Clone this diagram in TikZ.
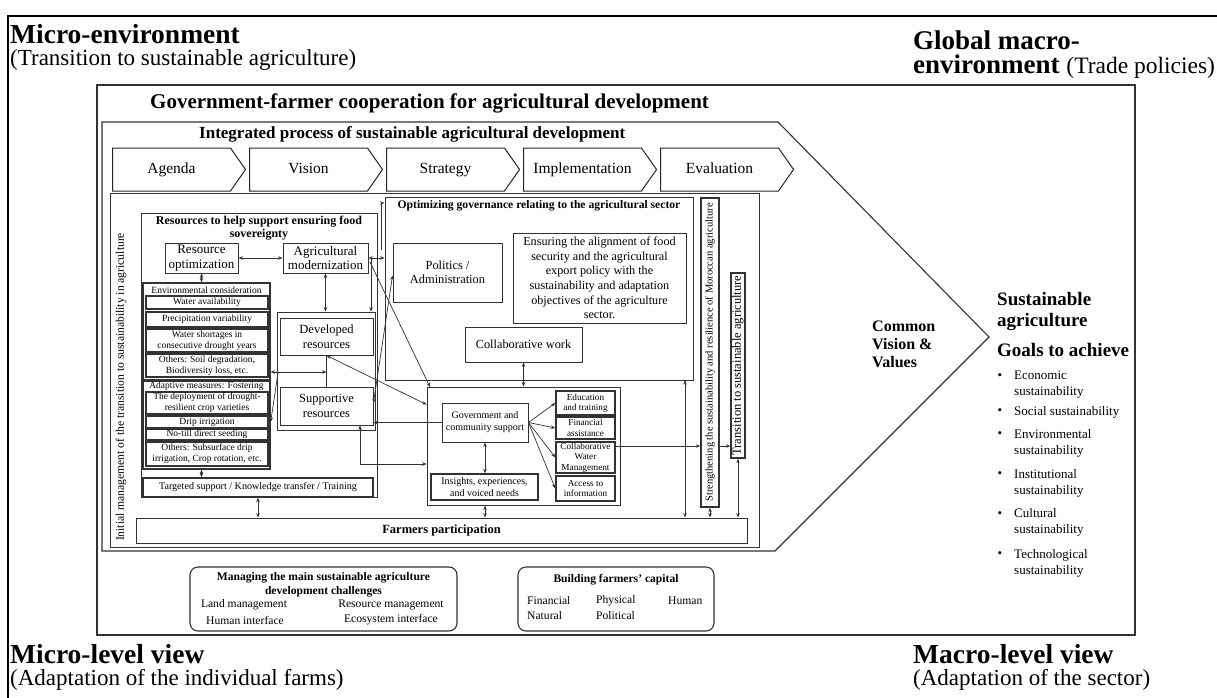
\documentclass[tikz,border=0pt]{standalone}
\usepackage{fontspec}
\setmainfont{Liberation Serif}
\usetikzlibrary{arrows.meta,shapes.symbols}
\newcommand\fz[2]{\fontsize{#1}{#2}\selectfont}
\tikzset{
  ln/.style={draw=black!80, line width=0.9pt},
  bx/.style={ln, inner sep=0pt, align=center},
  tb/.style={bx, line width=1.3pt},
  sb/.style={tb, minimum width=122pt, font=\fz{9.5}{10.8}},
  rs/.style={tb, minimum width=59pt, font=\fz{9.2}{10.4}},
  ah/.style={-{Stealth[length=4.5pt,width=3.5pt]}, draw=black!80, line width=0.7pt},
  dah/.style={{Stealth[length=4.5pt,width=3.5pt]}-{Stealth[length=4.5pt,width=3.5pt]}, draw=black!80, line width=0.7pt},
  chev/.style={draw=black!85, line width=1pt, shape=signal, signal to=east, signal pointer angle=110, minimum width=133pt, minimum height=43pt, inner sep=0pt, text height=11pt, text depth=3.5pt, font=\fz{15.5}{18}},
  lbl/.style={inner sep=0pt, align=left},
  rbox/.style={ln, line width=1.1pt, rounded corners=8pt, inner sep=0pt},
}
\begin{document}
\begin{tikzpicture}[x=1pt,y=-1pt]
\useasboundingbox (0,0) rectangle (1217,698);
\fill[white] (0,0) rectangle (1217,698);
\draw[line width=1.2pt] (8,698) -- (8,16) -- (1217,16);

% corner titles
\node[lbl, anchor=base west, font={\fz{23}{22}\lineskiplimit=-50pt}] (micro) at (10,66) {{\fz{27.5}{22}\bfseries Micro-environment}\\(Transition to sustainable agriculture)};
\node[lbl, anchor=base west, font={\fz{27}{24}\lineskiplimit=-50pt}] (glob) at (913,74) {{\bfseries Global macro-}\\{\bfseries environment}\ {\fz{23.5}{24}(Trade policies)}};
\node[lbl, anchor=base west, font={\fz{23}{22}\lineskiplimit=-50pt}] (mlv) at (10,685) {{\fz{27.5}{22}\bfseries Micro-level view}\\(Adaptation of the individual farms)};
\node[lbl, anchor=base west, font={\fz{23}{22}\lineskiplimit=-50pt}] (Mlv) at (913,685) {{\fz{27.5}{22}\bfseries Macro-level view}\\(Adaptation of the sector)};

% government box
\node[bx, line width=1.1pt, minimum width=1038pt, minimum height=550pt] (gov) at (616,360) {};
\node[lbl, anchor=base west, font=\fz{21}{24}\bfseries] (govt) at (150,109) {Government-farmer cooperation for agricultural development};

% pentagon
\draw[ln, line width=1.1pt] (102,122) -- (778,122) -- (989,337) -- (775,551) -- (102,551) -- cycle;
\node[lbl, anchor=base west, font=\fz{17}{20}\bfseries] (ipt) at (199,139) {Integrated process of sustainable agricultural development};

\node[chev] (c1) at (171.5,169.5) {Agenda};
\node[chev] (c2) at (308.5,169.5) {Vision};
\node[chev] (c3) at (445.5,169.5) {Strategy};
\node[chev] (c4) at (582.5,169.5) {Implementation};
\node[chev] (c5) at (719.5,169.5) {Evaluation};

% inner box
\node[bx, minimum width=649pt, minimum height=354pt] (inner) at (434.5,370) {};
\node[rotate=90, font=\fz{11.6}{13}, inner sep=0pt] (initv) at (121,387) {Initial management of the transition to sustainability in agriculture};

% resources box
\node[bx, minimum width=236pt, minimum height=284pt] (res) at (259,355) {};
\node[font=\fz{12}{13}\bfseries, align=center, inner sep=0pt] (rest) at (259,228.5) {Resources to help support ensuring food\\sovereignty};
\node[bx, minimum width=73pt, minimum height=30pt, font=\fz{13}{14.5}] (ro) at (201.5,258) {Resource\\optimization};
\node[bx, minimum width=85pt, minimum height=30pt, font=\fz{13}{14.5}] (am) at (325.5,258) {Agricultural\\modernization};

\node[tb, minimum width=127pt, minimum height=97pt] (env) at (206.5,331.5) {};
\node[font=\fz{9.5}{11}, inner sep=0pt] (envt) at (206.5,290) {Environmental consideration};
\node[sb, minimum height=13pt] (wa) at (207,302.5) {Water availability};
\node[sb, minimum height=15pt] (pv) at (207,319.5) {Precipitation variability};
\node[sb, minimum height=23pt] (ws) at (207,340.5) {Water shortages in\\consecutive drought years};
\node[sb, minimum height=23pt] (os) at (207,365.5) {Others: Soil degradation,\\Biodiversity loss, etc.};

\node[tb, minimum width=127pt, minimum height=88pt] (ada) at (206.5,425) {};
\node[font=\fz{9.5}{11}, inner sep=0pt] (adat) at (206.5,386) {Adaptive measures: Fostering};
\node[sb, minimum height=22pt] (dd) at (207,403) {The deployment of drought-\\resilient crop varieties};
\node[sb, minimum height=12pt] (di) at (207,422) {Drip irrigation};
\node[sb, minimum height=11pt] (nt) at (207,434.5) {No-till direct seeding};
\node[sb, minimum height=24pt] (ot) at (207,454) {Others: Subsurface drip\\irrigation, Crop rotation, etc.};

\node[tb, minimum width=230pt, minimum height=19pt, font=\fz{10.1}{12}] (ts) at (258,487.5) {Targeted support / Knowledge transfer / Training};

\node[bx, minimum width=98pt, minimum height=118pt] (dg) at (326,371) {};
\node[bx, minimum width=93pt, minimum height=37pt, font=\fz{12.5}{14.5}] (dr) at (326.5,336.5) {Developed\\resources};
\node[bx, minimum width=93pt, minimum height=38pt, font=\fz{12.5}{14.5}] (sr) at (326.5,406) {Supportive\\resources};

% optimizing governance
\node[bx, minimum width=308pt, minimum height=183pt] (og) at (539,288.5) {};
\node[font=\fz{11.6}{13}\bfseries, inner sep=0pt] (ogt) at (539,206) {Optimizing governance relating to the agricultural sector};
\node[bx, minimum width=109pt, minimum height=59pt, font=\fz{12.4}{14.5}] (pa) at (447.5,272.5) {Politics /\\Administration};
\node[bx, minimum width=173pt, minimum height=90pt, font=\fz{12.2}{14.6}] (ea) at (599.5,278) {Ensuring the alignment of food\\security and the agricultural\\export policy with the\\sustainability and adaptation\\objectives of the agriculture\\sector.};
\node[bx, minimum width=117pt, minimum height=35pt, font=\fz{12.3}{14}] (cw) at (523.5,344.5) {Collaborative work};

% government and community support group
\node[bx, minimum width=193pt, minimum height=118pt] (gcg) at (523.5,446) {};
\node[bx, minimum width=86pt, minimum height=39pt, font=\fz{10}{12}] (gcs) at (485,422.5) {Government and\\community support};
\node[tb, minimum width=107pt, minimum height=26pt, font=\fz{10}{12}] (ins) at (484.5,487) {Insights, experiences,\\and voiced needs};
\node[rs, minimum height=24pt] (edu) at (585.5,403) {Education\\and training};
\node[rs, minimum height=22pt] (fin) at (585.5,428) {Financial\\assistance};
\node[rs, minimum height=31pt] (cwm) at (585.5,457.5) {Collaborative\\Water\\Management};
\node[rs, minimum height=25pt] (acc) at (585.5,488.5) {Access to\\information};

% farmers
\node[bx, minimum width=611pt, minimum height=25pt, font=\fz{12.5}{14}\bfseries] (fp) at (441.5,530.5) {Farmers participation};

% vertical right boxes
\node[tb, rotate=90, minimum width=309pt, minimum height=18pt, font=\fz{10.5}{12}] (st) at (710,352.5) {Strengthening the sustainability and resilience of Moroccan agriculture};
\node[tb, rotate=90, minimum width=185pt, minimum height=14pt, font=\fz{12.5}{14}] (tr) at (738,365.5) {Transition to sustainable agriculture};

% right side texts
\node[lbl, anchor=north west, font=\fz{16}{18}\bfseries] (cvv) at (872,321) {Common\\Vision \&\\Values};
\node[lbl, anchor=north west, font=\fz{19}{21}\bfseries] (sa) at (997,292) {Sustainable\\agriculture};
\node[lbl, anchor=west, font=\fz{19}{21}\bfseries] (goals) at (997,350) {Goals to achieve};
\foreach \nm/\y/\t in {g1/385/{Economic\\sustainability}, g2/412/{Social sustainability}, g3/443.5/{Environmental\\sustainability}, g4/483/{Institutional\\sustainability}, g5/522.5/{Cultural\\sustainability}, g6/563/{Technological\\sustainability}}{
  \node[lbl, anchor=west, font=\fz{13}{16}] (\nm) at (1014,\y) {\t};
}
\foreach \y [count=\i] in {377,412,435,475,515,555}{
  \node[lbl, font=\fz{13}{16}] (bul\i) at (1000,\y) {\textbullet};
}

% bottom rounded boxes
\node[rbox, minimum width=267pt, minimum height=64pt] (mg) at (323.5,599) {};
\node[font=\fz{11.6}{14}\bfseries, align=center, inner sep=0pt] (mgt) at (323.5,585) {Managing the main sustainable agriculture\\development challenges};
\node[font=\fz{11.6}{13}, inner sep=0pt] (lm) at (244,605) {Land management};
\node[font=\fz{11.6}{13}, inner sep=0pt] (rm) at (391,605) {Resource management};
\node[font=\fz{11.6}{13}, inner sep=0pt] (hi) at (245,620) {Human interface};
\node[font=\fz{11.6}{13}, inner sep=0pt] (ei) at (391,620) {Ecosystem interface};

\node[rbox, minimum width=196pt, minimum height=64pt] (bf) at (616,599) {};
\node[font=\fz{11.6}{13}\bfseries, inner sep=0pt] (bft) at (616,580) {Building farmers' capital};
\node[font=\fz{11.6}{13}, inner sep=0pt, anchor=west] (fi) at (527,601) {Financial};
\node[font=\fz{11.6}{13}, inner sep=0pt, anchor=west] (ph) at (596,601) {Physical};
\node[font=\fz{11.6}{13}, inner sep=0pt, anchor=west] (hu) at (668,601) {Human};
\node[font=\fz{11.6}{13}, inner sep=0pt, anchor=west] (na) at (527,616) {Natural};
\node[font=\fz{11.6}{13}, inner sep=0pt, anchor=west] (po) at (596,616) {Political};

% connectors
\coordinate (j1) at (326.5,372);
\coordinate (k1) at (360,464);
\coordinate (k2) at (371,258);
\coordinate (k4) at (620,446);
\coordinate (k5) at (685,380);
\coordinate (k6) at (381,203);
\draw[dah] (ro.east) -- (am.west);
\draw[dah] (ro.south) -- (ro.south |- env.north);
\draw[dah] (am.south) -- (am.south |- dg.north);
\draw[ln, line width=0.7pt] (dr.south) -- (sr.north);
\draw[dah] (env.east |- j1) -- (j1);
\draw[ah] (278,373) -- (ada.east |- di);
\draw[dah] (ada.south -| ro.south) -- (ts.north -| ro.south);
\draw[dah] (ts.south) -- (ts.south |- fp.north);
\draw[dah] (sr.south -| k1) -- (k1) -- (gcg.west |- k1);
\draw[dah] (am.east) -- (am.east -| og.west);
\draw[ah] (k2) -- (k2 |- dg.north);
\draw[ah] (370,262) -- (430,387);
\draw[dah] (dr.south) -- ([yshift=-18pt]gcg.north west);
\draw[dah] ([yshift=3pt]sr.east) -- ([yshift=-3pt]pa.west);
\draw[ah] (gcs.west) -- (gcs.west -| sr.east);
\draw[dah] (gcs.south) -- (gcs.south |- ins.north);
\draw[dah] (gcs.south |- gcg.south) -- (gcs.south |- fp.north);
\foreach \n in {edu,fin,cwm,acc} \draw[ah] (gcs.east) -- (\n.west);
\draw[ah] (cwm.east |- k4) -- (st.north |- k4);
\draw[ah] (st.south |- k4) -- (tr.north |- k4);
\draw[dah] (st.west) -- (st.west |- fp.north);
\draw[dah] (tr.west) -- (tr.west |- fp.north);
\draw[dah] (k5) -- (k5 |- fp.north);
\draw[dah] (cw.south) -- (cw.south |- gcg.north);
\draw[ah] (381,250) -- (k6) -- (k6 -| og.west);
\end{tikzpicture}
\end{document}
